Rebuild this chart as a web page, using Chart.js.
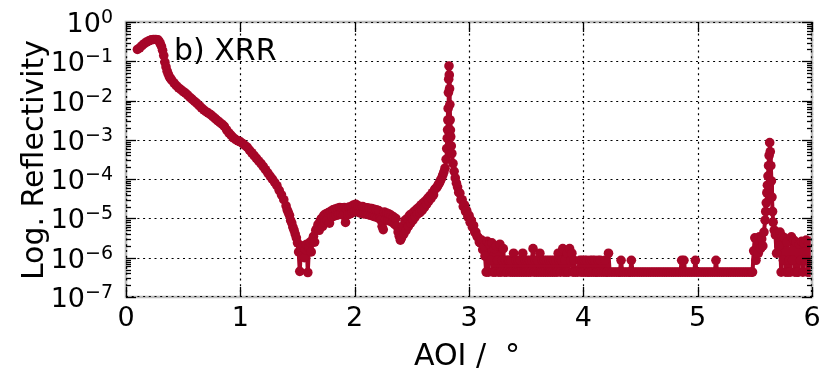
<!DOCTYPE html>
<html>
<head>
<meta charset="utf-8">
<script src="https://cdn.jsdelivr.net/npm/chart.js@4/dist/chart.umd.min.js"></script>
<style>
  html, body { margin: 0; padding: 0; background: #ffffff; }
  #box { width: 831px; height: 369px; }
</style>
</head>
<body>
<div id="box"><canvas id="xrr" width="831" height="369"></canvas></div>
<script>
// X-ray reflectivity scan: angle of incidence (deg) vs. reflectivity

// total-reflection plateau and first decay, 0.10 .. 1.40 deg
const aoiDecay = [
  0.10,0.12,0.14,0.16,0.18,0.20,0.22,0.24,0.26,0.28,
  0.29,0.30,0.31,0.32,0.33,0.34,0.35,0.36,0.37,0.38,
  0.39,0.40,0.42,0.44,0.46,0.48,0.50,0.52,0.54,0.56,
  0.58,0.60,0.62,0.64,0.66,0.68,0.70,0.72,0.74,0.76,
  0.78,0.80,0.82,0.84,0.86,0.88,0.90,0.92,0.94,0.96,
  0.98,1.00,1.02,1.04,1.06,1.08,1.10,1.12,1.14,1.16,
  1.18,1.20,1.22,1.24,1.26,1.28,1.30,1.32,1.34,1.36,
  1.38,1.40
];
const reflDecay = [
  0.20,0.22,0.25,0.28,0.31,0.33,0.35,0.36,0.36,0.35,
  0.32,0.28,0.24,0.19,0.14,0.095,0.072,0.056,0.047,0.040,
  0.036,0.033,0.028,0.024,0.021,0.019,0.017,0.0155,0.0138,0.012,
  0.0107,0.0095,0.0085,0.0074,0.0065,0.0058,0.0052,0.0048,0.0044,0.0039,
  0.0035,0.0031,0.0028,0.0025,0.0022,0.0018,0.0015,0.0013,0.00112,0.00102,
  0.00095,0.00089,0.00081,0.00072,0.00065,0.00055,0.00047,0.00040,0.00034,0.00029,
  0.00025,0.00021,1.74e-4,1.45e-4,1.2e-4,1.0e-4,8.3e-5,6.8e-5,5.2e-5,4.0e-5,
  3.0e-5,2.1e-5
];

// minimum, broad fringe and first Bragg peak, 1.41 .. 3.14 deg
const aoiFringe = [
  1.41,1.42,1.43,1.44,1.45,1.46,1.47,1.48,1.49,1.50,
  1.51,1.52,1.53,1.54,1.55,1.56,1.57,1.58,1.59,1.60,
  1.61,1.62,1.63,1.64,1.65,1.66,1.67,1.68,1.69,1.70,
  1.71,1.72,1.73,1.74,1.75,1.76,1.77,1.78,1.79,1.80,
  1.81,1.82,1.83,1.84,1.85,1.86,1.87,1.88,1.89,1.90,
  1.91,1.92,1.93,1.94,1.95,1.96,1.97,1.98,1.99,2.00,
  2.01,2.02,2.03,2.04,2.05,2.06,2.07,2.08,2.09,2.10,
  2.11,2.12,2.13,2.14,2.15,2.16,2.17,2.18,2.19,2.20,
  2.21,2.22,2.23,2.24,2.25,2.26,2.27,2.28,2.29,2.30,
  2.31,2.32,2.33,2.34,2.35,2.36,2.37,2.38,2.39,2.40,
  2.41,2.42,2.43,2.44,2.45,2.46,2.47,2.48,2.49,2.50,
  2.51,2.52,2.53,2.54,2.55,2.56,2.57,2.58,2.59,2.60,
  2.61,2.62,2.63,2.64,2.65,2.66,2.67,2.68,2.69,2.70,
  2.71,2.72,2.73,2.74,2.75,2.76,2.77,2.78,2.79,2.80,
  2.805,2.81,2.8125,2.815,2.8175,2.82,2.8225,2.825,2.8275,2.83,
  2.8325,2.835,2.8375,2.84,2.845,2.85,2.86,2.87,2.88,2.89,
  2.90,2.91,2.92,2.93,2.94,2.95,2.96,2.97,2.98,2.99,
  3.00,3.01,3.02,3.03,3.04,3.05,3.06,3.07,3.08,3.09,
  3.10,3.11,3.12,3.13,3.14
];
const reflFringe = [
  1.66e-5,1.41e-5,1.2e-5,8.9e-6,7.6e-6,6.0e-6,5.0e-6,4.0e-6,3.2e-6,2.4e-6,
  1.4e-6,4.5e-7,1.8e-6,1.1e-6,2.0e-6,1.0e-6,1.6e-6,2.2e-6,4.2e-7,1.8e-6,
  2.5e-6,1.4e-6,2.8e-6,3.5e-6,2.5e-6,5.0e-6,5.6e-6,7.1e-6,5.0e-6,8.9e-6,
  1.0e-5,6.3e-6,1.2e-5,7.9e-6,1.32e-5,9.0e-6,1.41e-5,7.6e-6,1.51e-5,1.1e-5,
  1.66e-5,1.15e-5,1.74e-5,1.2e-5,1.82e-5,1.25e-5,1.9e-5,1.3e-5,1.86e-5,1.2e-5,
  1.9e-5,7.9e-6,1.74e-5,1.25e-5,1.95e-5,1.3e-5,2.0e-5,1.4e-5,2.2e-5,1.5e-5,
  2.3e-5,1.5e-5,2.1e-5,1.4e-5,2.0e-5,1.35e-5,2.0e-5,1.3e-5,1.9e-5,1.3e-5,
  1.86e-5,1.25e-5,1.82e-5,1.2e-5,1.78e-5,1.15e-5,1.7e-5,1.1e-5,1.66e-5,1.05e-5,
  1.58e-5,1.0e-5,8.9e-6,6.3e-6,5.2e-6,1.45e-5,9.5e-6,1.38e-5,8.9e-6,1.3e-5,
  8.5e-6,1.2e-5,8.0e-6,1.1e-5,7.1e-6,1.0e-5,6.3e-6,4.5e-6,3.5e-6,2.8e-6,
  3.2e-6,6.3e-6,4.0e-6,8.9e-6,5.0e-6,1.0e-5,6.3e-6,1.2e-5,7.6e-6,1.32e-5,
  9.0e-6,1.5e-5,1.1e-5,1.7e-5,1.3e-5,1.9e-5,1.4e-5,2.2e-5,1.6e-5,2.5e-5,
  1.9e-5,2.8e-5,2.3e-5,3.3e-5,2.8e-5,3.8e-5,3.3e-5,4.5e-5,4.0e-5,5.5e-5,
  5.8e-5,6.3e-5,7.1e-5,7.9e-5,9.1e-5,1.05e-4,1.26e-4,1.51e-4,1.9e-4,3.2e-4,
  6.0e-4,1.1e-3,1.8e-3,3.2e-3,6.3e-3,0.016,0.035,0.076,0.045,0.020,
  0.0079,3.2e-3,1.78e-3,1.2e-3,7.0e-4,4.5e-4,2.5e-4,1.58e-4,1.07e-4,7.9e-5,
  6.3e-5,4.6e-5,4.4e-5,3.0e-5,3.0e-5,2.0e-5,2.2e-5,1.5e-5,1.58e-5,1.1e-5,
  1.2e-5,8.0e-6,8.9e-6,6.0e-6,6.6e-6,4.5e-6,4.5e-6,3.5e-6,3.3e-6,2.5e-6,
  2.4e-6,2.8e-6,1.6e-6,2.0e-6,1.1e-6
];

// background counts and second Bragg peak, 3.15 .. 6.00 deg
const aoiTail = [
  3.15,3.16,3.17,3.18,3.19,3.20,3.21,3.22,3.23,3.24,
  3.25,3.26,3.27,3.28,3.29,3.30,3.31,3.32,3.33,3.34,
  3.35,3.36,3.37,3.38,3.39,3.40,3.41,3.42,3.43,3.44,
  3.45,3.46,3.47,3.48,3.49,3.50,3.51,3.52,3.53,3.54,
  3.55,3.56,3.57,3.58,3.59,3.60,3.61,3.62,3.63,3.64,
  3.65,3.66,3.67,3.68,3.69,3.70,3.71,3.72,3.73,3.74,
  3.75,3.76,3.77,3.78,3.79,3.80,3.81,3.82,3.83,3.84,
  3.85,3.86,3.87,3.88,3.89,3.90,3.91,3.92,3.93,3.95,
  3.97,3.98,3.99,4.00,4.01,4.02,4.03,4.04,4.05,4.06,
  4.07,4.08,4.09,4.10,4.11,4.12,4.13,4.14,4.15,4.16,
  4.18,4.19,4.20,4.21,4.22,4.23,4.25,4.27,4.29,4.31,
  4.32,4.33,4.34,4.36,4.38,4.40,4.41,4.42,4.43,4.45,
  4.47,4.49,4.51,4.53,4.55,4.57,4.59,4.61,4.63,4.65,
  4.67,4.69,4.71,4.73,4.75,4.77,4.79,4.81,4.83,4.85,
  4.86,4.87,4.88,4.89,4.91,4.93,4.95,4.97,4.98,4.99,
  5.01,5.03,5.05,5.07,5.09,5.11,5.13,5.15,5.16,5.17,
  5.19,5.21,5.23,5.25,5.27,5.29,5.31,5.33,5.35,5.37,
  5.39,5.41,5.43,5.45,5.47,5.48,5.49,5.50,5.51,5.52,
  5.53,5.54,5.55,5.56,5.57,5.58,5.59,5.595,5.60,5.605,
  5.61,5.615,5.62,5.625,5.63,5.635,5.64,5.645,5.65,5.655,
  5.66,5.67,5.68,5.69,5.70,5.71,5.72,5.73,5.74,5.75,
  5.76,5.77,5.78,5.79,5.80,5.81,5.82,5.83,5.84,5.85,
  5.86,5.87,5.88,5.89,5.90,5.91,5.92,5.93,5.94,5.95,
  5.96,5.97,5.98,5.99,6.00
];
const reflTail = [
  4.3e-7,2.6e-6,4.3e-7,2.2e-6,8.6e-7,2.4e-6,4.3e-7,1.7e-6,4.3e-7,2.0e-6,
  8.6e-7,4.3e-7,2.2e-6,4.3e-7,8.6e-7,1.7e-6,4.3e-7,8.6e-7,4.3e-7,8.6e-7,
  8.6e-7,4.3e-7,8.6e-7,4.3e-7,1.3e-6,4.3e-7,8.6e-7,4.3e-7,8.6e-7,4.3e-7,
  8.6e-7,4.3e-7,1.3e-6,4.3e-7,8.6e-7,4.3e-7,8.6e-7,4.3e-7,8.6e-7,4.3e-7,
  8.6e-7,1.7e-6,4.3e-7,8.6e-7,4.3e-7,8.6e-7,4.3e-7,1.3e-6,4.3e-7,8.6e-7,
  4.3e-7,8.6e-7,4.3e-7,8.6e-7,4.3e-7,8.6e-7,4.3e-7,8.6e-7,4.3e-7,8.6e-7,
  4.3e-7,8.6e-7,4.3e-7,1.3e-6,8.6e-7,4.3e-7,8.6e-7,1.7e-6,4.3e-7,8.6e-7,
  4.3e-7,1.3e-6,4.3e-7,1.7e-6,8.6e-7,1.3e-6,4.3e-7,8.6e-7,4.3e-7,4.3e-7,
  8.6e-7,4.3e-7,8.6e-7,4.3e-7,8.6e-7,4.3e-7,8.6e-7,4.3e-7,4.3e-7,8.6e-7,
  4.3e-7,8.6e-7,4.3e-7,8.6e-7,4.3e-7,4.3e-7,8.6e-7,4.3e-7,8.6e-7,4.3e-7,
  4.3e-7,8.6e-7,4.3e-7,4.3e-7,1.3e-6,4.3e-7,4.3e-7,4.3e-7,4.3e-7,4.3e-7,
  4.3e-7,8.6e-7,4.3e-7,4.3e-7,4.3e-7,4.3e-7,4.3e-7,8.6e-7,4.3e-7,4.3e-7,
  4.3e-7,4.3e-7,4.3e-7,4.3e-7,4.3e-7,4.3e-7,4.3e-7,4.3e-7,4.3e-7,4.3e-7,
  4.3e-7,4.3e-7,4.3e-7,4.3e-7,4.3e-7,4.3e-7,4.3e-7,4.3e-7,4.3e-7,4.3e-7,
  8.6e-7,4.3e-7,8.6e-7,4.3e-7,4.3e-7,4.3e-7,4.3e-7,4.3e-7,8.6e-7,4.3e-7,
  4.3e-7,4.3e-7,4.3e-7,4.3e-7,4.3e-7,4.3e-7,4.3e-7,4.3e-7,8.6e-7,4.3e-7,
  4.3e-7,4.3e-7,4.3e-7,4.3e-7,4.3e-7,4.3e-7,4.3e-7,4.3e-7,4.3e-7,4.3e-7,
  4.3e-7,4.3e-7,4.3e-7,4.3e-7,4.3e-7,4.3e-7,1.5e-6,3.2e-6,8.6e-7,2.8e-6,
  1.3e-6,3.4e-6,1.7e-6,3.0e-6,2.0e-6,4.5e-6,9.0e-6,1.5e-5,2.5e-5,4.5e-5,
  7.0e-5,1.2e-4,2.2e-4,4.0e-4,8.5e-4,5.0e-4,2.2e-4,9.0e-5,3.5e-5,1.5e-5,
  8.0e-6,5.0e-6,3.8e-6,1.3e-6,4.2e-6,2.0e-6,4.5e-6,4.3e-7,3.5e-6,8.6e-7,
  3.2e-6,4.3e-7,2.5e-6,4.3e-7,8.6e-7,4.3e-7,3.4e-6,8.6e-7,2.8e-6,4.3e-7,
  2.5e-6,4.3e-7,4.3e-7,2.2e-6,8.6e-7,2.6e-6,4.3e-7,2.4e-6,8.6e-7,2.8e-6,
  4.3e-7,2.3e-6,4.3e-7,2.6e-6,8.6e-7
];

// axis ticks
const aoiTicks = [0, 1, 2, 3, 4, 5, 6];
const reflTickExponents = [0, -1, -2, -3, -4, -5, -6, -7];

const curveColor = '#A60628';
const fontFamily = '"DejaVu Sans", "Liberation Sans", sans-serif';

function toPoints(xs, ys) {
  return xs.map((x, i) => ({ x: x, y: ys[i] }));
}
const scanPoints = [].concat(
  toPoints(aoiDecay, reflDecay),
  toPoints(aoiFringe, reflFringe),
  toPoints(aoiTail, reflTail)
);

function supText(e) {
  return e === 0 ? '0' : '\u2212' + Math.abs(e);
}

function seg(ctx, x1, y1, x2, y2) {
  ctx.beginPath();
  ctx.moveTo(x1, y1);
  ctx.lineTo(x2, y2);
  ctx.stroke();
}

const frameAndText = {
  id: 'frameAndText',
  beforeDatasetsDraw(chart) {
    const { ctx, chartArea: a, scales: { x, y } } = chart;
    ctx.save();
    ctx.strokeStyle = '#000';
    ctx.lineWidth = 1.2;
    ctx.setLineDash([2, 3.7]);
    aoiTicks.forEach(v => {
      const px = Math.round(x.getPixelForValue(v)) + 0.5;
      seg(ctx, px, a.top, px, a.bottom);
    });
    reflTickExponents.forEach(e => {
      const py = Math.round(y.getPixelForValue(Math.pow(10, e))) + 0.5;
      seg(ctx, a.left, py, a.right, py);
    });
    ctx.restore();
  },
  afterDatasetsDraw(chart) {
    const { ctx, chartArea: a, scales: { x, y } } = chart;
    ctx.save();

    // grey spines
    ctx.strokeStyle = '#bcbcbc';
    ctx.lineWidth = 2.6;
    ctx.strokeRect(a.left, a.top, a.right - a.left, a.bottom - a.top);

    // dotted grid running over the spines
    ctx.strokeStyle = '#000';
    ctx.lineWidth = 1.2;
    ctx.setLineDash([2, 3.7]);
    seg(ctx, a.left, a.top + 0.5, a.right, a.top + 0.5);
    seg(ctx, a.left, a.bottom - 0.5, a.right, a.bottom - 0.5);
    seg(ctx, a.left + 0.5, a.top, a.left + 0.5, a.bottom);
    seg(ctx, a.right - 0.5, a.top, a.right - 0.5, a.bottom);
    ctx.setLineDash([]);

    // inward tick marks
    ctx.lineWidth = 1.3;
    aoiTicks.forEach(v => {
      const px = Math.round(x.getPixelForValue(v)) + 0.5;
      seg(ctx, px, a.bottom, px, a.bottom - 10);
      seg(ctx, px, a.top, px, a.top + 10);
    });
    reflTickExponents.forEach(e => {
      const py = Math.round(y.getPixelForValue(Math.pow(10, e))) + 0.5;
      seg(ctx, a.left, py, a.left + 10, py);
      seg(ctx, a.right, py, a.right - 10, py);
      if (e > -7) {
        for (let m = 2; m <= 9; m++) {
          const pm = Math.round(y.getPixelForValue(m * Math.pow(10, e - 1))) + 0.5;
          seg(ctx, a.left, pm, a.left + 5, pm);
          seg(ctx, a.right, pm, a.right - 5, pm);
        }
      }
    });

    // tick labels
    ctx.fillStyle = '#000';
    ctx.textBaseline = 'alphabetic';
    const baseFont = '27px ' + fontFamily;
    const supFont = '19px ' + fontFamily;
    const rightEdge = a.left - 13;
    reflTickExponents.forEach(e => {
      const py = y.getPixelForValue(Math.pow(10, e));
      const s = supText(e);
      ctx.font = supFont;
      const sw = ctx.measureText(s).width;
      ctx.textAlign = 'left';
      ctx.fillText(s, rightEdge - sw, py + 1);
      ctx.font = baseFont;
      ctx.textAlign = 'right';
      ctx.fillText('10', rightEdge - sw, py + 10);
    });
    ctx.font = baseFont;
    ctx.textAlign = 'center';
    aoiTicks.forEach(v => {
      ctx.fillText(String(v), x.getPixelForValue(v), a.bottom + 29);
    });

    // axis titles
    ctx.font = '30px ' + fontFamily;
    ctx.textAlign = 'left';
    ctx.fillText('AOI /', 414, 365);
    ctx.fillText('\u00B0', 505, 365);
    ctx.save();
    ctx.translate(43, 160);
    ctx.rotate(-Math.PI / 2);
    ctx.textAlign = 'center';
    ctx.fillText('Log. Reflectivity', 0, 0);
    ctx.restore();

    // panel label
    ctx.textAlign = 'left';
    ctx.fillText('b) XRR', 174, 60);

    ctx.restore();
  }
};

new Chart(document.getElementById('xrr'), {
  type: 'scatter',
  data: {
    datasets: [{
      data: scanPoints,
      showLine: true,
      borderColor: curveColor,
      backgroundColor: curveColor,
      pointBackgroundColor: curveColor,
      borderWidth: 4,
      borderJoinStyle: 'round',
      borderCapStyle: 'round',
      pointRadius: 4.8,
      pointHoverRadius: 4.8,
      pointBorderWidth: 0,
      tension: 0,
      clip: 0
    }]
  },
  options: {
    responsive: false,
    animation: false,
    devicePixelRatio: 1,
    events: [],
    layout: { padding: { top: 22, right: 19, left: 0, bottom: 0 } },
    plugins: { legend: { display: false }, tooltip: { enabled: false } },
    scales: {
      x: {
        type: 'linear', min: 0, max: 6,
        grid: { display: false }, border: { display: false },
        ticks: { display: false },
        afterFit(s) { s.height = 72; }
      },
      y: {
        type: 'logarithmic', min: 1e-7, max: 1,
        grid: { display: false }, border: { display: false },
        ticks: { display: false },
        afterFit(s) { s.width = 126; }
      }
    }
  },
  plugins: [frameAndText]
});
</script>
</body>
</html>
